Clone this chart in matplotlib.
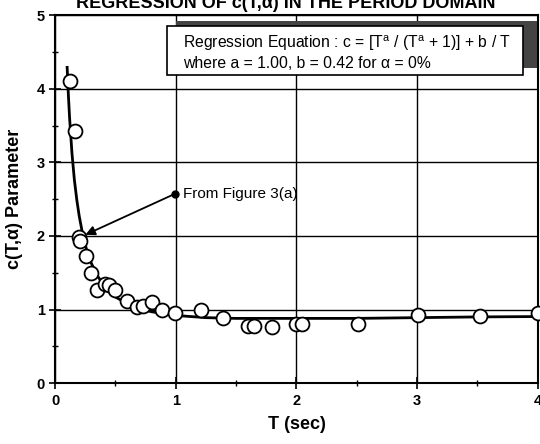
import matplotlib
matplotlib.use('Agg')
import matplotlib.pyplot as plt
from matplotlib.patches import Rectangle

plt.rcParams['font.family'] = ['Liberation Sans', 'DejaVu Sans']
plt.rcParams['mathtext.fontset'] = 'custom'
plt.rcParams['mathtext.rm'] = 'Liberation Sans'

period = [0.12, 0.165, 0.20, 0.21, 0.26, 0.30, 0.35, 0.41, 0.45, 0.50, 0.60, 0.68,
          0.73, 0.80, 0.89, 0.99, 1.21, 1.39, 1.60, 1.65, 1.80, 2.00, 2.05, 2.51,
          3.01, 3.52, 4.00]
c_param = [4.10, 3.43, 1.99, 1.93, 1.73, 1.50, 1.27, 1.35, 1.34, 1.26, 1.12, 1.03,
           1.05, 1.10, 1.00, 0.95, 0.99, 0.88, 0.78, 0.78, 0.76, 0.80, 0.80, 0.81,
           0.93, 0.91, 0.95]

# regression curve
curve_T = [0.10, 0.11, 0.12, 0.14, 0.16, 0.18, 0.20, 0.23, 0.26, 0.30, 0.35, 0.40,
           0.50, 0.60, 0.70, 0.80, 1.00, 1.25, 1.50, 2.00, 2.50, 3.00, 3.50, 4.00]
curve_c = [4.29, 3.92, 3.61, 3.12, 2.76, 2.49, 2.27, 2.01, 1.82, 1.63, 1.46, 1.34,
           1.17, 1.08, 1.01, 0.97, 0.92, 0.89, 0.88, 0.88, 0.88, 0.89, 0.90, 0.905]

source_point = (0.99, 2.57)
arrow_tip = (0.23, 2.0)

W, H = 540, 444
fig = plt.figure(figsize=(5.4, 4.44), dpi=100)
ax = fig.add_axes([0.102, 0.137, 0.894, 0.829])

ax.set_xlim(0, 4)
ax.set_ylim(0, 5)
ax.set_xticks([0, 1, 2, 3, 4])
ax.set_yticks([0, 1, 2, 3, 4, 5])
ax.set_xticks([0.5, 1.5, 2.5, 3.5], minor=True)
ax.set_yticks([0.5, 1.5, 2.5, 3.5, 4.5], minor=True)
ax.grid(True, which='major', color='black', linewidth=1.0)
ax.set_axisbelow(True)
ax.tick_params(which='major', direction='inout', length=8, width=1.2,
               labelsize=10.5, colors='black')
ax.tick_params(which='minor', direction='inout', length=5, width=1.0)
for lab in ax.get_xticklabels() + ax.get_yticklabels():
    lab.set_fontweight('bold')
for sp in ax.spines.values():
    sp.set_linewidth(1.5)

ax.plot(curve_T, curve_c, color='black', linewidth=2.0, zorder=3)
ax.plot(period, c_param, 'o', markersize=10, markerfacecolor='white',
        markeredgecolor='black', markeredgewidth=1.3, zorder=4, clip_on=False)

ax.plot(*source_point, 'o', color='black', markersize=5, zorder=5)
ax.annotate('', xy=arrow_tip, xytext=source_point,
            arrowprops=dict(arrowstyle='-|>', color='black', lw=1.3,
                            mutation_scale=14), zorder=5)
ax.text(source_point[0] + 0.07, source_point[1], 'From Figure 3(a)',
        fontsize=11, va='center')

ax.set_xlabel('T (sec)', fontsize=13, fontweight='bold', labelpad=6)
ax.set_ylabel('c(T,\u03b1) Parameter', fontsize=13, fontweight='bold', labelpad=10)

# equation box with shadow
shadow = Rectangle((176 / W, 1 - 68 / H), 361 / W, 47 / H,
                   transform=fig.transFigure, facecolor='#444444',
                   edgecolor='none', zorder=6)
box = Rectangle((167 / W, 1 - 75 / H), 356 / W, 49 / H,
                transform=fig.transFigure, facecolor='white',
                edgecolor='black', linewidth=1.2, zorder=7)
fig.patches.extend([shadow, box])
fig.text(183 / W, 1 - 48 / H,
         r'Regression Equation : c = [T$^{\mathrm{a}}$ / (T$^{\mathrm{a}}$ + 1)] + b / T',
         fontsize=11.3, va='baseline', zorder=8)
fig.text(183 / W, 1 - 68 / H,
         'where a = 1.00, b = 0.42 for \u03b1 = 0%',
         fontsize=11.3, va='baseline', zorder=8)

fig.text(0.53, 1 - 12 / H, 'REGRESSION OF c(T,\u03b1) IN THE PERIOD DOMAIN',
         fontsize=13, fontweight='bold', ha='center', va='bottom')

fig.savefig('out.png', dpi=100)
